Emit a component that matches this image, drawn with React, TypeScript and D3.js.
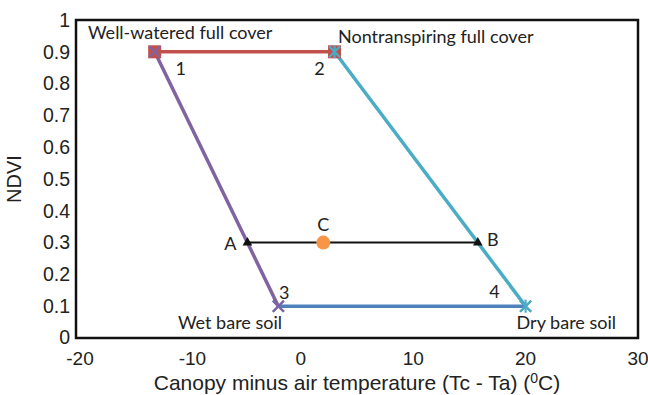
import React from 'react';
import * as d3 from 'd3';

// reference lines of the trapezoid (x = Tc - Ta, y = NDVI)
const fullCoverX = [-13, 3];
const fullCoverY = [0.9, 0.9];
const wetEdgeX = [-13, -2];
const wetEdgeY = [0.9, 0.1];
const dryEdgeX = [3, 20];
const dryEdgeY = [0.9, 0.1];
const bareSoilX = [-2, 20];
const bareSoilY = [0.1, 0.1];
const abLineX = [-4.75, 15.75];
const abLineY = [0.3, 0.3];
const pointCX = [2];
const pointCY = [0.3];

const xTicks = [-20, -10, 0, 10, 20, 30];
const yTicks = [0, 0.1, 0.2, 0.3, 0.4, 0.5, 0.6, 0.7, 0.8, 0.9, 1];
const cornerLabels = ['1', '2', '3', '4'];
const abcLabels = ['A', 'B', 'C'];

const W = 648;
const H = 395;
const M = { left: 76, right: 10, top: 20, bottom: 57 };

const x = d3.scaleLinear().domain([-20, 30]).range([M.left, W - M.right]);
const y = d3.scaleLinear().domain([0, 1]).range([H - M.bottom, M.top]);

const line = d3.line<[number, number]>().x(d => x(d[0])).y(d => y(d[1]));
const pts = (xs: number[], ys: number[]) => xs.map((v, i) => [v, ys[i]] as [number, number]);

const RED = '#C0504D';
const PURPLE = '#8064A2';
const TEAL = '#4BACC6';
const BLUE = '#4F81BD';
const ORANGE = '#F79646';
const labelFont = 'Lato, "Open Sans", sans-serif';
const tickFont = '"Liberation Sans", Arial, sans-serif';
const LS = 18;

const XMark = ({ cx, cy, color, star }: { cx: number; cy: number; color: string; star?: boolean }) => {
  const s = 5.5;
  return (
    <g stroke={color} strokeWidth={2.2}>
      <line x1={cx - s} y1={cy - s} x2={cx + s} y2={cy + s} />
      <line x1={cx - s} y1={cy + s} x2={cx + s} y2={cy - s} />
      {star && <line x1={cx} y1={cy - s - 1} x2={cx} y2={cy + s + 1} />}
    </g>
  );
};

export default function App() {
  const full = pts(fullCoverX, fullCoverY);
  const wet = pts(wetEdgeX, wetEdgeY);
  const dry = pts(dryEdgeX, dryEdgeY);
  const bare = pts(bareSoilX, bareSoilY);
  const ab = pts(abLineX, abLineY);
  const c = pts(pointCX, pointCY);

  const cornerPts = [full[0], full[1], bare[0], bare[1]];
  const cornerOff = [[26, 23], [-15, 23], [6, -7], [-31, -8]];
  const abcPts = [ab[0], ab[1], c[0]];
  const abcOff = [[-17, 7], [15, 3], [0, -12]];

  const tri = d3.symbol().type(d3.symbolTriangle).size(40)() as string;

  return (
    <svg width={W} height={H} style={{ position: 'absolute', left: 0, top: 0 }}>
      <rect width={W} height={H} fill="#fff" />

      {/* y ticks */}
      {yTicks.map(t => (
        <text key={t} x={M.left - 6} y={y(t) - (t === 0 ? 1 : 0)} dy="0.35em" textAnchor="end"
          fontFamily={tickFont} fontSize={19.5} fill="#222">{t}</text>
      ))}
      {/* x ticks */}
      {xTicks.map(t => (
        <text key={t} x={x(t) + (t < 0 ? 4 : 0)} y={H - M.bottom + 27} textAnchor="middle"
          fontFamily={tickFont} fontSize={19} fill="#222">{t}</text>
      ))}

      <text transform={`translate(21,${(M.top + H - M.bottom) / 2}) rotate(-90)`} textAnchor="middle"
        fontFamily={tickFont} fontSize={20} fill="#222">NDVI</text>
      <text x={357} y={390} textAnchor="middle" fontFamily={tickFont} fontSize={21} fill="#222">
        Canopy minus air temperature (Tc - Ta) (<tspan dy={-7} fontSize={14}>0</tspan><tspan dy={7}>C)</tspan>
      </text>

      {/* lines */}
      <path d={line(full)!} stroke={RED} strokeWidth={3.5} fill="none" />
      <path d={line(wet)!} stroke={PURPLE} strokeWidth={3.5} fill="none" />
      <path d={line(dry)!} stroke={TEAL} strokeWidth={3.5} fill="none" />
      <path d={line(bare)!} stroke={BLUE} strokeWidth={3.5} fill="none" />
      <path d={line(ab)!} stroke="#111" strokeWidth={2} fill="none" />

      {/* markers */}
      {full.map((p, i) => (
        <rect key={'sq' + i} x={x(p[0]) - 6.5} y={y(p[1]) - 6.5} width={13} height={13} fill={RED} />
      ))}
      {bare.map((p, i) => <XMark key={'bx' + i} cx={x(p[0])} cy={y(p[1])} color={BLUE} />)}
      {wet.map((p, i) => <XMark key={'wx' + i} cx={x(p[0])} cy={y(p[1])} color={PURPLE} />)}
      {dry.map((p, i) => <XMark key={'dx' + i} cx={x(p[0])} cy={y(p[1])} color={TEAL} star />)}
      {ab.map((p, i) => (
        <path key={'tr' + i} d={tri} transform={`translate(${x(p[0])},${y(p[1])})`} fill="#111" />
      ))}
      {c.map((p, i) => <circle key={'c' + i} cx={x(p[0])} cy={y(p[1])} r={7} fill={ORANGE} />)}

      {/* labels */}
      {cornerLabels.map((l, i) => (
        <text key={l} x={x(cornerPts[i][0]) + cornerOff[i][0]} y={y(cornerPts[i][1]) + cornerOff[i][1]}
          textAnchor="middle" fontFamily={labelFont} fontSize={LS} fill="#222">{l}</text>
      ))}
      {abcLabels.map((l, i) => (
        <text key={l} x={x(abcPts[i][0]) + abcOff[i][0]} y={y(abcPts[i][1]) + abcOff[i][1]}
          textAnchor="middle" fontFamily={labelFont} fontSize={LS} fill="#222">{l}</text>
      ))}
      <text x={88} y={39} fontFamily={labelFont} fontSize={LS} fill="#222">Well-watered full cover</text>
      <text x={338} y={43} fontFamily={labelFont} fontSize={LS} fill="#222">Nontranspiring full cover</text>
      <text x={178} y={329} fontFamily={labelFont} fontSize={LS} fill="#222">Wet bare soil</text>
      <text x={616} y={329} textAnchor="end" fontFamily={labelFont} fontSize={LS} fill="#222">Dry bare soil</text>

      {/* frame */}
      <rect x={M.left} y={M.top} width={W - M.left - M.right} height={H - M.top - M.bottom}
        fill="none" stroke="#111" strokeWidth={2.5} />
    </svg>
  );
}
